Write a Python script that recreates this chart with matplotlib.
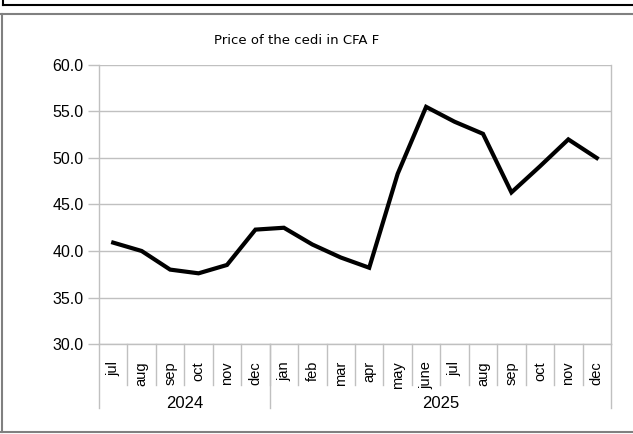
import matplotlib
matplotlib.use("Agg")
import matplotlib.pyplot as plt
from matplotlib.lines import Line2D
import matplotlib.transforms as mtransforms

months = ["jul", "aug", "sep", "oct", "nov", "dec",
          "jan", "feb", "mar", "apr", "may", "june",
          "jul", "aug", "sep", "oct", "nov", "dec"]
years = ["2024", "2025"]
year_counts = [6, 12]
prices = [40.9, 40.0, 38.0, 37.6, 38.5, 42.3,
          42.5, 40.7, 39.3, 38.2, 48.3, 55.5,
          53.9, 52.6, 46.3, 49.1, 52.0, 50.0]
yticks = [30.0, 35.0, 40.0, 45.0, 50.0, 55.0, 60.0]
title = "Price of the cedi in CFA F"

plt.rcParams['font.family'] = ['Liberation Sans', 'DejaVu Sans']

W, H = 633, 434
fig = plt.figure(figsize=(W / 100, H / 100), dpi=100)
fig.patch.set_facecolor("white")

# axes box in pixels: x 99..611, y 65..344
L, R, T, B = 99, 611, 65, 344
ax = fig.add_axes([L / W, 1 - B / H, (R - L) / W, (B - T) / H])

grid_c = "#c0c0c0"
x = list(range(len(prices)))
ax.plot(x, prices, color="black", lw=3.0, solid_joinstyle="miter", zorder=3)

ax.set_xlim(-0.5, len(months) - 0.5)
ax.set_ylim(yticks[0], yticks[-1])
ax.set_yticks(yticks)
ax.set_yticklabels([f"{v:.1f}" for v in yticks], fontsize=11.5)
ax.yaxis.grid(True, color=grid_c, lw=1.0)
ax.set_axisbelow(True)
ax.tick_params(axis="y", length=8, width=1, color=grid_c, pad=3)
ax.set_xticks([])
for s in ["left", "bottom", "right"]:
    ax.spines[s].set_color(grid_c)
    ax.spines[s].set_linewidth(1.0)
ax.spines["top"].set_visible(False)

trans = mtransforms.blended_transform_factory(ax.transData, ax.transAxes)
ah = B - T
y_sep = -(385 - B) / ah
y_year_sep = -(408 - B) / ah
y_month = -(361 - B) / ah
y_year = -(403 - B) / ah

# month labels and separators
for i, m in enumerate(months):
    ax.text(i, y_month, m, rotation=90, ha="center", va="top",
            fontsize=10.5, transform=trans)
for i in range(1, len(months)):
    ax.add_line(Line2D([i - 0.5, i - 0.5], [0, y_sep], transform=trans,
                       color=grid_c, lw=1.0, clip_on=False))

# year labels and separators
start = 0
bounds = [-0.5]
for yl, n in zip(years, year_counts):
    c = start + (n - 1) / 2
    ax.text(c, y_year, yl, ha="center", va="center", fontsize=12, transform=trans)
    start += n
    bounds.append(start - 0.5)
for b in bounds:
    ax.add_line(Line2D([b, b], [0, y_year_sep], transform=trans,
                       color=grid_c, lw=1.0, clip_on=False))

# title
fig.text(297 / W, 1 - 40 / H, title, ha="center", va="center",
         fontsize=9.5, family=["DejaVu Sans"])

# frame decorations
def px(xp, yp):
    return xp / W, 1 - yp / H

frame_c = "#808080"
for (x0, y0, x1, y1, c) in [
    (0, 13.5, W, 13.5, frame_c),
    (1.5, 13.5, 1.5, 432, frame_c),
    (0, 432, W, 432, frame_c),
    (2.5, 4.5, W, 4.5, "black"),
    (2.5, 0, 2.5, 4.5, "black"),
]:
    a, b_ = px(x0, y0)
    c_, d = px(x1, y1)
    fig.add_artist(Line2D([a, c_], [b_, d], color=c, lw=1.5))

fig.savefig("out.png", dpi=100, facecolor="white")
